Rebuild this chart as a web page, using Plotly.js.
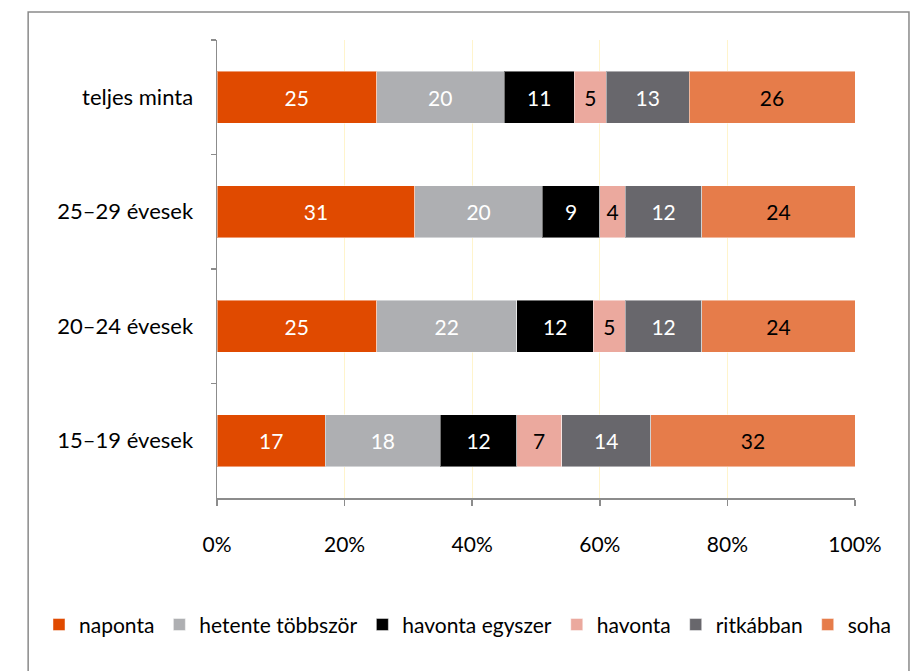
<!DOCTYPE html>
<html>
<head>
<meta charset="utf-8">
<script src="https://cdn.plot.ly/plotly-3.0.1.min.js"></script>
<style>html,body{margin:0;padding:0;background:#fff;}#chart{width:910px;height:671px;}</style>
</head>
<body>
<div id="chart"></div>
<script>
const categories = ["teljes minta", "25–29 évesek", "20–24 évesek", "15–19 évesek"];
const seriesNames = ["naponta", "hetente többször", "havonta egyszer", "havonta", "ritkábban", "soha"];
const naponta = [25, 31, 25, 17];
const hetente = [20, 20, 22, 18];
const havontaEgyszer = [11, 9, 12, 12];
const havonta = [5, 4, 5, 7];
const ritkabban = [13, 12, 12, 14];
const soha = [26, 24, 24, 32];
const xTickVals = [0, 20, 40, 60, 80, 100];
const xTickText = ["0%", "20%", "40%", "60%", "80%", "100%"];

const seriesValues = [naponta, hetente, havontaEgyszer, havonta, ritkabban, soha];
const colors = ["#E04A00", "#AEAFB2", "#000000", "#EBA99E", "#68676C", "#E67C4A"];
const textColors = ["#ffffff", "#ffffff", "#ffffff", "#000000", "#ffffff", "#000000"];
const FONT = "Lato, 'Open Sans', sans-serif";

const traces = seriesNames.map((name, i) => ({
  type: "bar",
  orientation: "h",
  name: name,
  y: categories,
  x: seriesValues[i],
  marker: {color: colors[i], line: {color: "rgba(255,255,255,0.45)", width: 1}},
  text: seriesValues[i].map(String),
  textposition: "inside",
  insidetextanchor: "middle",
  textangle: 0,
  constraintext: "none",
  textfont: {family: FONT, size: 21, color: textColors[i]},
  hoverinfo: "name+x"
}));

const layout = {
  width: 910, height: 671,
  barmode: "stack",
  bargap: 0.545,
  margin: {l: 217, r: 55, t: 40, b: 173},
  paper_bgcolor: "#ffffff",
  plot_bgcolor: "#ffffff",
  font: {family: FONT, size: 21, color: "#000"},
  showlegend: true,
  legend: {
    orientation: "h",
    x: -0.279, xanchor: "left",
    y: -0.277, yanchor: "middle",
    font: {family: FONT, size: 21, color: "#000"},
    traceorder: "normal",
    itemwidth: 30,
    bgcolor: "rgba(0,0,0,0)"
  },
  xaxis: {
    range: [0, 100],
    tickvals: xTickVals,
    ticktext: xTickText,
    tickfont: {family: FONT, size: 21, color: "#000"},
    showgrid: true,
    gridcolor: "#FFF4CC",
    gridwidth: 1,
    zeroline: false,
    showline: true,
    linecolor: "#8C8C8C",
    linewidth: 1.5,
    ticks: "outside",
    ticklen: 6,
    tickcolor: "#8C8C8C",
    tickwidth: 1.5,
    ticklabelstandoff: 21,
    fixedrange: true
  },
  yaxis: {
    type: "category",
    categoryorder: "array",
    categoryarray: categories,
    autorange: "reversed",
    tickfont: {family: FONT, size: 22, color: "#000"},
    showline: true,
    linecolor: "#8C8C8C",
    linewidth: 1.5,
    ticks: "outside",
    tickson: "boundaries",
    ticklen: 5,
    tickcolor: "#8C8C8C",
    tickwidth: 1.5,
    showgrid: false,
    zeroline: false,
    ticklabelstandoff: 18,
    fixedrange: true
  },
  shapes: [{
    type: "rect", xref: "paper", yref: "paper",
    x0: -0.296, x1: 1.0846, y0: -0.45, y1: 1.0611,
    line: {color: "#8A8A8A", width: 1.5},
    fillcolor: "rgba(0,0,0,0)",
    layer: "below"
  }]
};

Plotly.newPlot("chart", traces, layout, {displayModeBar: false, staticPlot: true});
</script>
</body>
</html>
